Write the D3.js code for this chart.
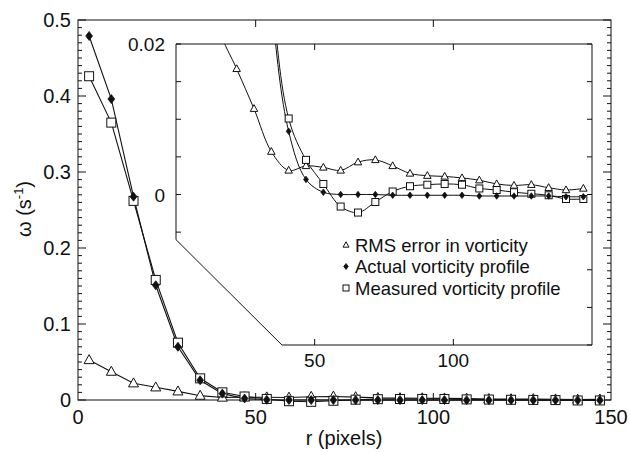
<!DOCTYPE html>
<html>
<head>
<meta charset="utf-8">
<script src="https://cdn.jsdelivr.net/npm/d3@7/dist/d3.min.js"></script>
<style>
  html, body { margin: 0; padding: 0; background: #fff; }
  svg { display: block; }
  text { font-family: "Liberation Sans", Arial, Helvetica, sans-serif; fill: #111; }
</style>
</head>
<body>
<svg id="chart" width="630" height="452"></svg>
<script>
// Radial bin centres (pixels)
const radius = [3.125, 9.375, 15.625, 21.875, 28.125, 34.375, 40.625, 46.875,
  53.125, 59.375, 65.625, 71.875, 78.125, 84.375, 90.625, 96.875,
  103.125, 109.375, 115.625, 121.875, 128.125, 134.375, 140.625, 146.875];

// RMS error in vorticity (s^-1)
const rmsError = [0.0526, 0.0373, 0.0220, 0.0167, 0.0114, 0.0057, 0.0032, 0.0038,
  0.0036, 0.0032, 0.0043, 0.0046, 0.0038, 0.0028, 0.0025, 0.0024,
  0.0022, 0.0019, 0.0014, 0.0012, 0.0013, 0.0009, 0.0006, 0.0008];

// Actual vorticity profile (s^-1)
const actual = [0.479, 0.396, 0.2675, 0.151, 0.070, 0.026, 0.0084, 0.0020,
  0.0003, 0.0000, 0.0000, 0.0000, -0.0001, -0.0001, -0.0001, -0.0001,
  -0.0001, -0.0002, -0.0002, -0.0002, -0.0002, -0.0002, -0.0003, -0.0003];

// Measured vorticity profile (s^-1)
const measured = [0.426, 0.365, 0.262, 0.158, 0.0754, 0.0285, 0.0101, 0.0046,
  0.0014, -0.0016, -0.0024, -0.0010, 0.0004, 0.0011, 0.0013, 0.0014,
  0.0013, 0.0008, 0.0006, 0.0003, 0.0001, -0.0001, -0.0006, -0.0006];

// Axis ticks
const mainXTicks = [0, 50, 100, 150];
const mainYTicks = [0, 0.1, 0.2, 0.3, 0.4, 0.5];
const insetXTicks = [50, 100];
const insetYLabels = [0, 0.02];

const legendLabels = ["RMS error in vorticity", "Actual vorticity profile", "Measured vorticity profile"];

const svg = d3.select("#chart");
const ink = "#111";

// ---------- main panel ----------
const x = d3.scaleLinear().domain([0, 150]).range([78, 611]);
const y = d3.scaleLinear().domain([0, 0.5]).range([400, 20]);

const main = svg.append("g");

// frame
main.append("rect")
  .attr("x", x(0)).attr("y", y(0.5))
  .attr("width", x(150) - x(0)).attr("height", y(0) - y(0.5))
  .attr("fill", "none").attr("stroke", ink).attr("stroke-width", 1);

// y ticks (inward on both sides), minor every 0.01
const yMinor = d3.range(0, 51).map(i => i / 100);
yMinor.forEach((v, i) => {
  const len = i % 10 === 0 ? 8 : 4;
  main.append("line").attr("x1", x(0)).attr("x2", x(0) + len)
    .attr("y1", y(v)).attr("y2", y(v)).attr("stroke", ink);
  main.append("line").attr("x1", x(150)).attr("x2", x(150) - len)
    .attr("y1", y(v)).attr("y2", y(v)).attr("stroke", ink);
});
// x ticks top & bottom
[50, 100].forEach(v => {
  main.append("line").attr("x1", x(v)).attr("x2", x(v))
    .attr("y1", y(0)).attr("y2", y(0) - 7).attr("stroke", ink);
  main.append("line").attr("x1", x(v)).attr("x2", x(v))
    .attr("y1", y(0.5)).attr("y2", y(0.5) + 7).attr("stroke", ink);
});

// tick labels
main.selectAll("text.xt").data(mainXTicks).join("text")
  .attr("class", "xt")
  .attr("x", d => x(d)).attr("y", 424)
  .attr("text-anchor", "middle").attr("font-size", 20)
  .text(d => d3.format("d")(d));
main.selectAll("text.yt").data(mainYTicks).join("text")
  .attr("class", "yt")
  .attr("x", 71).attr("y", d => y(d) + 7)
  .attr("text-anchor", "end").attr("font-size", 20)
  .text(d => d === 0 ? "0" : d3.format(".1f")(d));

// axis titles
main.append("text")
  .attr("x", 344).attr("y", 445)
  .attr("text-anchor", "middle").attr("font-size", 20)
  .text("r (pixels)");
const yTitle = main.append("text")
  .attr("transform", "translate(31,209) rotate(-90)")
  .attr("text-anchor", "middle").attr("font-size", 20);
yTitle.append("tspan").text("ω (s");
yTitle.append("tspan").attr("font-size", 13).attr("dy", -8).text("-1");
yTitle.append("tspan").attr("dy", 8).text(")");

// ---------- series drawing ----------
const seriesList = [
  { values: rmsError, shape: "triangle" },
  { values: measured, shape: "square" },
  { values: actual, shape: "diamond" }
];

function drawMarker(g, shape, cx, cy, s) {
  if (shape === "triangle") {
    const h = s * 0.9;
    g.append("path")
      .attr("d", `M${cx},${cy - h * 0.6}L${cx + s / 2},${cy + h * 0.4}L${cx - s / 2},${cy + h * 0.4}Z`)
      .attr("fill", "#fff").attr("stroke", ink).attr("stroke-width", 1);
  } else if (shape === "square") {
    g.append("rect")
      .attr("x", cx - s / 2).attr("y", cy - s / 2).attr("width", s).attr("height", s)
      .attr("fill", "#fff").attr("stroke", ink).attr("stroke-width", 1);
  } else {
    const r = s / 2;
    g.append("path")
      .attr("d", `M${cx},${cy - r}L${cx + r * 0.75},${cy}L${cx},${cy + r}L${cx - r * 0.75},${cy}Z`)
      .attr("fill", ink).attr("stroke", ink).attr("stroke-width", 0.8);
  }
}

const mainSizes = { triangle: 10, square: 9, diamond: 9 };
const mainLine = d3.line().x((d, i) => x(radius[i])).y(d => y(d));
seriesList.forEach(s => {
  main.append("path").attr("d", mainLine(s.values))
    .attr("fill", "none").attr("stroke", ink).attr("stroke-width", 1.1);
});
seriesList.forEach(s => {
  s.values.forEach((v, i) => drawMarker(main, s.shape, x(radius[i]), y(v), mainSizes[s.shape]));
});

// ---------- inset (zoom near zero) ----------
const xi = d3.scaleLinear().domain([0, 150]).range([176, 592]);
const yi = d3.scaleLinear().domain([-0.02, 0.02]).range([345, 44]);
// cut corner of the inset frame, in inset data units
const cornerR = 38.2, cornerW = -0.006;

const frame = [
  [xi(0), yi(0.02)], [xi(150), yi(0.02)], [xi(150), yi(-0.02)],
  [xi(cornerR), yi(-0.02)], [xi(0), yi(cornerW)]
];
const framePath = "M" + frame.map(p => p.join(",")).join("L") + "Z";

const inset = svg.append("g");
const defs = svg.append("defs");
defs.append("clipPath").attr("id", "insetClip").append("path").attr("d", framePath);

inset.append("path").attr("d", framePath).attr("fill", "#fff").attr("stroke", "none");

const plot = inset.append("g").attr("clip-path", "url(#insetClip)");
const insetLine = d3.line().x((d, i) => xi(radius[i])).y(d => yi(d)).curve(d3.curveCatmullRom.alpha(0.5));
seriesList.forEach(s => {
  plot.append("path").attr("d", insetLine(s.values))
    .attr("fill", "none").attr("stroke", ink).attr("stroke-width", 1);
});
const insetSizes = { triangle: 7.5, square: 7, diamond: 6.5 };
seriesList.forEach(s => {
  s.values.forEach((v, i) => drawMarker(plot, s.shape, xi(radius[i]), yi(v), insetSizes[s.shape]));
});

// inset ticks
d3.range(-4, 5).map(k => k * 0.005).forEach(v => {
  if (yi(v) <= yi(cornerW) + 0.5) {
    inset.append("line").attr("x1", xi(0)).attr("x2", xi(0) + 5)
      .attr("y1", yi(v)).attr("y2", yi(v)).attr("stroke", ink);
  }
  inset.append("line").attr("x1", xi(150)).attr("x2", xi(150) - 5)
    .attr("y1", yi(v)).attr("y2", yi(v)).attr("stroke", ink);
});
insetXTicks.forEach(v => {
  inset.append("line").attr("x1", xi(v)).attr("x2", xi(v))
    .attr("y1", yi(-0.02)).attr("y2", yi(-0.02) - 6).attr("stroke", ink);
  inset.append("line").attr("x1", xi(v)).attr("x2", xi(v))
    .attr("y1", yi(0.02)).attr("y2", yi(0.02) + 6).attr("stroke", ink);
});

inset.append("path").attr("d", framePath)
  .attr("fill", "none").attr("stroke", ink).attr("stroke-width", 1);

inset.selectAll("text.ixt").data(insetXTicks).join("text")
  .attr("class", "ixt")
  .attr("x", d => xi(d)).attr("y", 367)
  .attr("text-anchor", "middle").attr("font-size", 19)
  .text(d => d);
inset.selectAll("text.iyt").data(insetYLabels).join("text")
  .attr("class", "iyt")
  .attr("x", 165).attr("y", d => yi(d) + 7)
  .attr("text-anchor", "end").attr("font-size", 19)
  .text(d => d === 0 ? "0" : d3.format(".2f")(d));

// legend
const legendShapes = ["triangle", "diamond", "square"];
legendLabels.forEach((lab, i) => {
  const cy = 245 + i * 21.5;
  drawMarker(inset, legendShapes[i], 346, cy, 6);
  inset.append("text").attr("x", 355).attr("y", cy + 6.5)
    .attr("font-size", 18.5).text(lab);
});
</script>
</body>
</html>
